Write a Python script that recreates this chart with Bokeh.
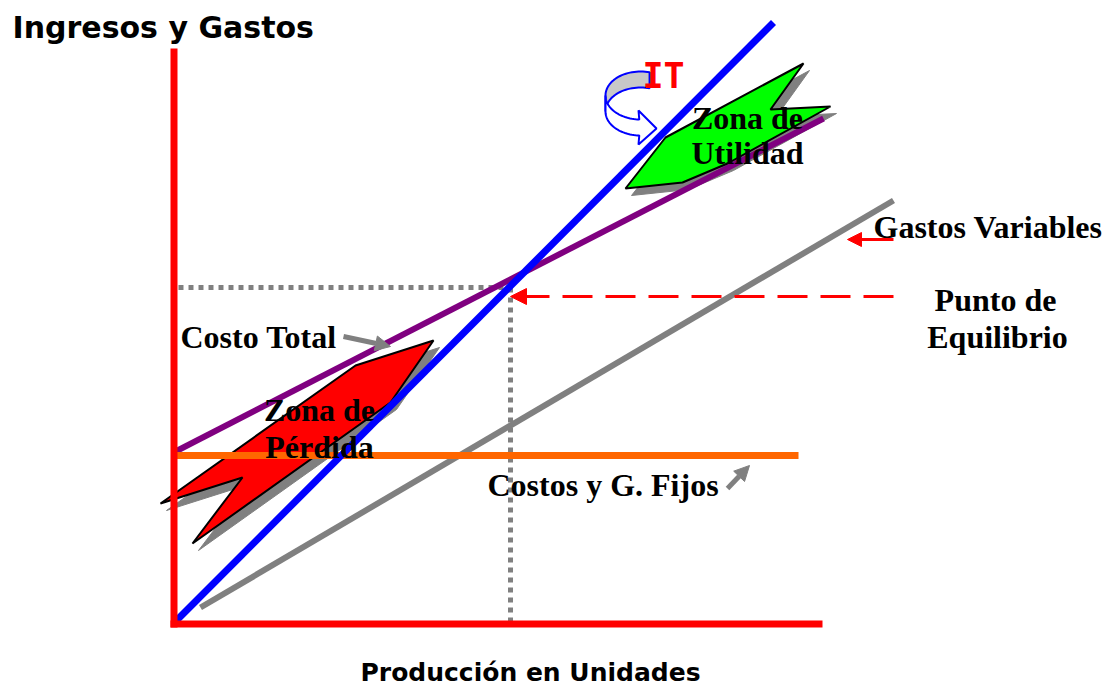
import numpy as np
from bokeh.plotting import figure
from bokeh.models import Range1d, Arrow, NormalHead
from bokeh.core.properties import value
from bokeh.embed import file_html
from bokeh.resources import INLINE

# ---- data (production units / money units) ----
x_ingreso = [0, 598]
ingreso_total = [1, 600]
x_costo = [0, 648]
costo_total = [171, 504]
x_fijos = [0, 623]
costos_fijos = [167, 167]
x_variables = [25, 718]
gastos_variables = [15, 422]
eq_x, eq_y = 335, 335
axis_x_max, axis_y_max = 647, 574

# callout shapes
perdida_x = [258, 180, -15, 67, 17, 215]
perdida_y = [282, 257, 119, 145, 79, 220]
utilidad_x = [628, 595, 655, 552, 507, 450, 490]
utilidad_y = [559, 513, 516, 459, 440, 434, 485]

# labels
labels_serif = ["Zona de", "Utilidad", "Zona de", "Pérdida", "Punto de", "Equilibrio"]
labels_serif_x = [572, 572, 144, 144, 820, 822]
labels_serif_y = [505, 470, 213, 176, 323, 286]
labels_left = ["Costo Total", "Gastos Variables", "Costos y G. Fijos"]
labels_left_x = [5, 698, 312]
labels_left_y = [286, 396, 138]

# arrows: (x0, y0, x1, y1)
arrow_pe = (718, 326, 335, 326)
arrow_gv = (718, 383, 672, 383)
arrow_ct = (168, 286, 215, 276)
arrow_cf = (552, 134, 574, 157)

p = figure(width=1110, height=688, x_range=Range1d(-175, 935), y_range=Range1d(-66, 622),
           output_backend="svg", toolbar_location=None, min_border=0)
p.axis.visible = False
p.grid.visible = False
p.outline_line_color = None
p.background_fill_color = "white"

GRAY = "#808080"

# gray variable costs line
p.line(x_variables, gastos_variables, line_color=GRAY, line_width=6)

# dotted equilibrium guides
p.line([3, eq_x], [eq_y, eq_y], line_color=GRAY, line_width=5, line_dash="5 5")
p.line([eq_x, eq_x], [eq_y, 0], line_color=GRAY, line_width=5, line_dash="5 5")

# shapes with shadows
sx, sy = 6, -7
p.patch([v + sx for v in perdida_x], [v + sy for v in perdida_y], fill_color=GRAY, line_color=GRAY)
p.patch([v + sx for v in utilidad_x], [v + sy for v in utilidad_y], fill_color=GRAY, line_color=GRAY)
p.line(x_costo, costo_total, line_color="#800080", line_width=6)
p.patch(perdida_x, perdida_y, fill_color="#FF0000", line_color="black", line_width=2)
p.patch(utilidad_x, utilidad_y, fill_color="#00FF00", line_color="black", line_width=2)

# orange fixed costs and blue revenue
p.line(x_fijos, costos_fijos, line_color="#FF6600", line_width=7)
p.line(x_ingreso, ingreso_total, line_color="#0000FF", line_width=7)

# axes
p.line([-1.5, -1.5], [-5, axis_y_max], line_color="#FF0000", line_width=7)
p.line([-5, axis_x_max], [-1.5, -1.5], line_color="#FF0000", line_width=7)

# arrows
def add_arrow(a, color, width, size, dash="solid"):
    p.add_layout(Arrow(end=NormalHead(size=size, fill_color=color, line_color=color),
                       x_start=a[0], y_start=a[1], x_end=a[2], y_end=a[3],
                       line_color=color, line_width=width, line_dash=dash))

add_arrow(arrow_pe, "#FF0000", 3, 16, "30 13")
add_arrow(arrow_gv, "#FF0000", 3, 14)
add_arrow(arrow_ct, GRAY, 5, 15)
add_arrow(arrow_cf, GRAY, 5, 15)

# curved IT ribbon arrow
cx, cy, rx, ry, h = 465, 527, 35, 24, 16
tb = np.radians(np.linspace(75, 180, 30))
back_x = list(cx + rx * np.cos(tb)) + list(cx + rx * np.cos(tb[::-1]))
back_y = list(cy + ry * np.sin(tb)) + list(cy - h + ry * np.sin(tb[::-1]))
p.patch(back_x, back_y, fill_color="#C8C8C8", line_color="#0000FF", line_width=2)
tf = np.radians(np.linspace(180, 268, 30))
front_x = list(cx + rx * np.cos(tf)) + [463, 481, 463] + list(cx + rx * np.cos(tf[::-1]))
front_y = list(cy + ry * np.sin(tf)) + [512, 494, 478] + list(cy - h + ry * np.sin(tf[::-1]))
p.patch(front_x, front_y, fill_color="white", line_color="#0000FF", line_width=2)

# texts
p.text(x=labels_serif_x, y=labels_serif_y, text=labels_serif, text_font=value("Liberation Serif"),
       text_font_style="bold", text_font_size="32px", text_align="center",
       text_baseline="alphabetic", text_color="black")
p.text(x=labels_left_x, y=labels_left_y, text=labels_left, text_font=value("Liberation Serif"),
       text_font_style="bold", text_font_size="32px", text_align="left",
       text_baseline="alphabetic", text_color="black")
p.text(x=[467], y=[547], text=["IT"], text_font=value("DejaVu Sans Mono"), text_font_style="bold",
       text_font_size="35px", text_align="left", text_baseline="alphabetic", text_color="#FF0000")
p.text(x=[-163], y=[595], text=["Ingresos y Gastos"], text_font=value("DejaVu Sans"),
       text_font_style="bold", text_font_size="30px", text_align="left",
       text_baseline="alphabetic", text_color="black")
p.text(x=[185], y=[-50], text=["Producción en Unidades"], text_font=value("DejaVu Sans"),
       text_font_style="bold", text_font_size="25px", text_align="left",
       text_baseline="alphabetic", text_color="black")

open("out.html", "w").write(file_html(p, INLINE))
